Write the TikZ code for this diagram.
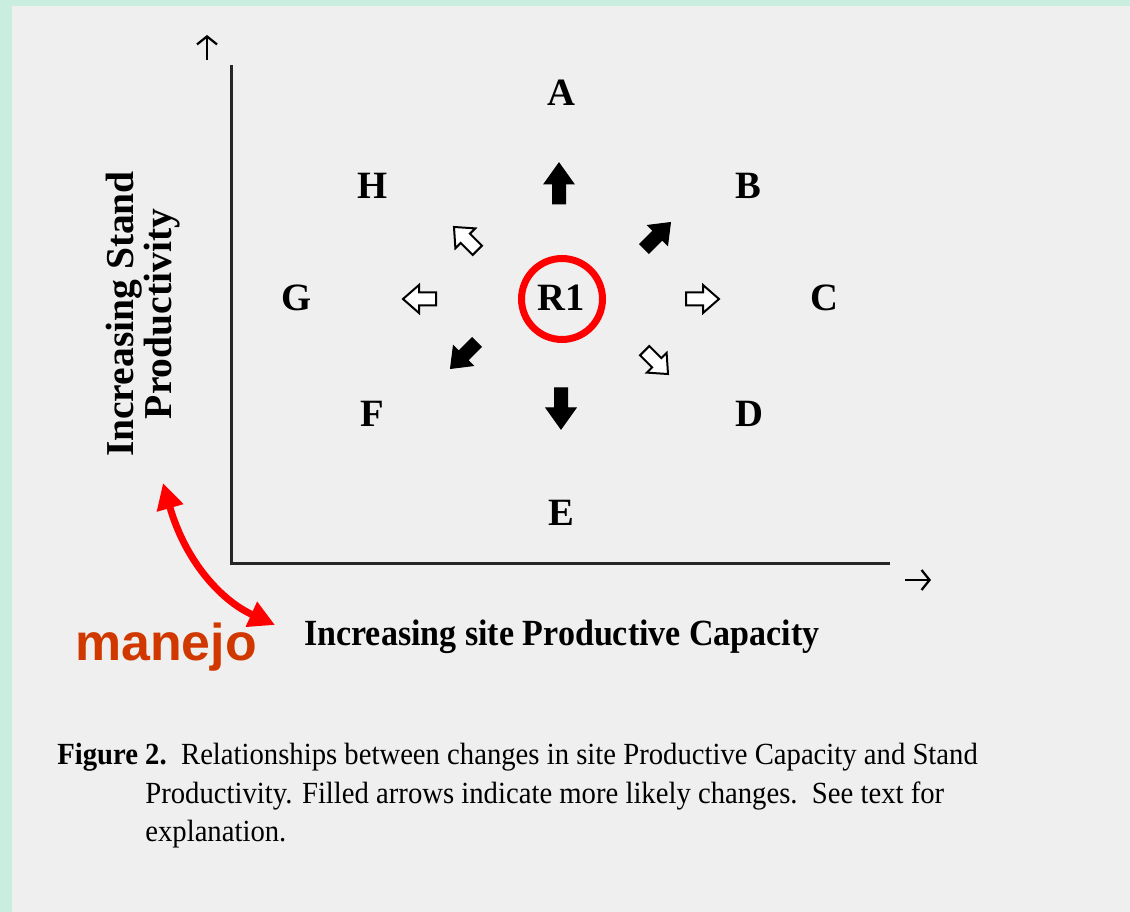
\documentclass[tikz,border=0pt]{standalone}
\usepackage{fontspec}
\setmainfont{Liberation Serif}
\newfontfamily\capfont[FakeStretch=0.933]{Liberation Serif}
\newfontfamily\xlabfont[FakeStretch=0.922]{Liberation Serif}
\newfontfamily\manfont{Liberation Sans}
\usetikzlibrary{arrows.meta}
\definecolor{mint}{RGB}{201,238,223}
\definecolor{paper}{RGB}{239,239,239}
\definecolor{manejoc}{RGB}{208,56,0}
\tikzset{
  letter/.style={font=\fontsize{22}{26}\selectfont\bfseries, inner sep=0pt},
  axis/.style={line width=0.06cm, black!85},
  tiny/.style={line width=0.045cm, -{Straight Barb[length=0.16cm,width=0.4cm]}},
  fullarrow/.style={fill=black, draw=black, line width=0.02cm, line join=miter},
  openarrow/.style={fill=white, draw=black, line width=0.04cm, line join=miter},
}
\newcommand{\bigarrow}[1]{(-20,-6.5) -- (0,-6.5) -- (0,-15) -- (21,0) -- (0,15) -- (0,6.5) -- (-20,6.5) -- cycle}
\newcommand{\diagarrow}[1]{(-18,-6.5) -- (1,-6.5) -- (1,-14) -- (19,0) -- (1,14) -- (1,6.5) -- (-18,6.5) -- cycle}
\newcommand{\smallarrow}[1]{(-16,-6.5) -- (1,-6.5) -- (1,-14) -- (17,0) -- (1,14) -- (1,6.5) -- (-16,6.5) -- cycle}
\begin{document}
\begin{tikzpicture}[x=0.02cm, y=-0.02cm]
\fill[mint] (0,0) rectangle (1130,912);
\fill[paper] (12,6) rectangle (1130,912);
\useasboundingbox (0,0) rectangle (1130,912);
% axes
\coordinate (O) at (231,563);
\coordinate (Ytop) at (231,67);
\coordinate (Xend) at (888,563);
\draw[axis, line cap=rect] (Ytop) -- (O) -- (Xend);
\coordinate (ua) at (207,60);
\coordinate (ub) at (207,35);
\draw[tiny] (ua) -- (ub);
\coordinate (ra) at (905,580);
\coordinate (rb) at (931,580);
\draw[tiny] (ra) -- (rb);
% letters
\node[letter] (A) at (561,93) {A};
\node[letter] (H) at (373,186) {H};
\node[letter] (B) at (748,186) {B};
\node[letter] (G) at (297,298) {G};
\node[letter] (R1) at (561,298) {R1};
\node[letter] (C) at (824,298) {C};
\node[letter] (F) at (372,414) {F};
\node[letter] (D) at (749,414) {D};
\node[letter] (E) at (561,513) {E};
% red circle
\node[draw=red, line width=0.14cm, circle, minimum size=1.62cm] (ring) at (562,299) {};
% block arrows
\draw[fullarrow, shift={(559,184)}, rotate=90] \bigarrow{};
\draw[fullarrow, shift={(657,236)}, rotate=45] \diagarrow{};
\draw[fullarrow, shift={(561,408)}, rotate=270] \bigarrow{};
\draw[fullarrow, shift={(464,355)}, rotate=225] \diagarrow{};
\draw[openarrow, shift={(702,299)}, rotate=0] \smallarrow{};
\draw[openarrow, shift={(656,362)}, rotate=315] \smallarrow{};
\draw[openarrow, shift={(420,299)}, rotate=180] \smallarrow{};
\draw[openarrow, shift={(466,239)}, rotate=135] \smallarrow{};
% axis labels
\node[font=\xlabfont\fontsize{21}{24}\selectfont\bfseries, inner sep=0pt] (xlab) at (562,637) {Increasing site Productive Capacity};
\node[font=\fontsize{22.5}{20}\selectfont\bfseries, inner sep=0pt, rotate=90, align=center] (ylab) at (143,314) {Increasing Stand\\Productivity};
% manejo
\coordinate (m1) at (163,483);
\coordinate (m2) at (275,625);
\draw[red, line width=0.14cm, {Triangle[length=0.52cm,width=0.52cm]}-{Triangle[length=0.52cm,width=0.52cm]}] (m1) .. controls (185,560) and (220,600) .. (m2);
\node[font=\manfont\fontsize{29.5}{32}\selectfont\bfseries, text=manejoc, inner sep=0pt] (man) at (166,647) {manejo};
% caption
\node[font=\capfont\fontsize{17.5}{21}\selectfont, anchor=north west, inner sep=0pt, align=left] (cap1) at (57,743) {\textbf{Figure 2.}\ \ Relationships between changes in site Productive Capacity and Stand};
\node[font=\capfont\fontsize{17.5}{21}\selectfont, anchor=north west, inner sep=0pt, align=left] (cap2) at (145,781) {Productivity. Filled arrows indicate more likely changes.\ \ See text for\\[1pt]explanation.};
\end{tikzpicture}
\end{document}
